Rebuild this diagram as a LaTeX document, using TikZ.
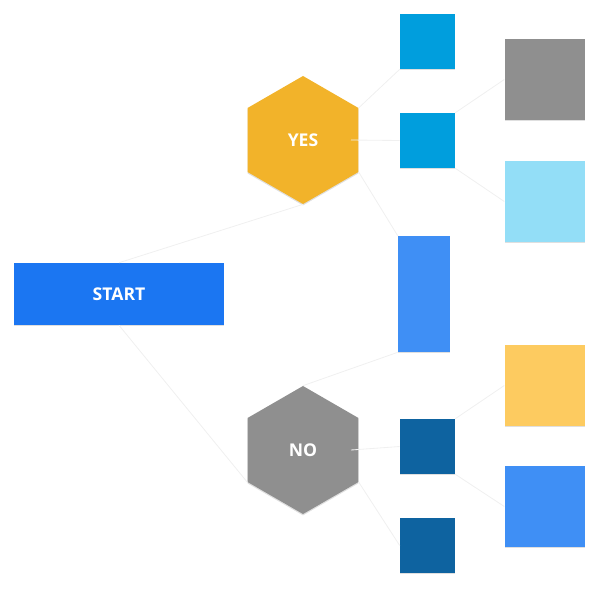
\documentclass[tikz,border=0pt]{standalone}
\usepackage{fontspec}
\setmainfont{Open Sans}
\usetikzlibrary{shapes.geometric,shadows}

\definecolor{startblue}{HTML}{1B76F2}
\definecolor{yesgold}{HTML}{F2B32A}
\definecolor{nogray}{HTML}{8F8F8F}
\definecolor{cyanbox}{HTML}{009EDD}
\definecolor{midblue}{HTML}{3F8FF5}
\definecolor{darkblue}{HTML}{0E63A0}
\definecolor{skyblue}{HTML}{93DEF7}
\definecolor{sunny}{HTML}{FDCB60}

\tikzset{
  box/.style={rectangle, inner sep=0pt, drop shadow={opacity=0.25, shadow xshift=0pt, shadow yshift=-1pt}},
  hex/.style={regular polygon, regular polygon sides=6, shape border rotate=30, minimum size=3.2cm, inner sep=0pt,
    text=white, font=\bfseries\fontsize{12.5}{14}\selectfont, drop shadow={opacity=0.25, shadow xshift=0pt, shadow yshift=-1pt}},
  link/.style={draw=gray!12, line width=0.6pt}
}

\begin{document}
\begin{tikzpicture}[x=0.025cm, y=-0.025cm]
\useasboundingbox (0,0) rectangle (600,588);
\node[box, fill=startblue, minimum width=5.25cm, minimum height=1.55cm, text=white, font=\bfseries\fontsize{12.5}{14}\selectfont] (start) at (119,294) {START};
\node[hex, fill=yesgold] (yes) at (303,140) {YES};
\node[hex, fill=nogray] (no) at (303,450) {NO};
\node[box, fill=cyanbox, minimum size=1.375cm] (c1) at (427.5,41.5) {};
\node[box, fill=cyanbox, minimum size=1.375cm] (c2) at (427.5,140.5) {};
\node[box, fill=midblue, minimum width=1.3cm, minimum height=2.9cm] (tall) at (424,294) {};
\node[box, fill=darkblue, minimum size=1.375cm] (d1) at (427.5,446.5) {};
\node[box, fill=darkblue, minimum size=1.375cm] (d2) at (427.5,545.5) {};
\node[box, fill=nogray, minimum size=2.02cm] (g1) at (545,79.5) {};
\node[box, fill=skyblue, minimum size=2.02cm] (g2) at (545,201.5) {};
\node[box, fill=sunny, minimum size=2.02cm] (g3) at (545,385.5) {};
\node[box, fill=midblue, minimum size=2.02cm] (g4) at (545,506.5) {};

\path[link] (start.north) -- (yes.corner 4);
\path[link] (yes.corner 6) -- (c1.south west);
\path[link] (yes.center) ++(48,0) -- (c2.west);
\path[link] (yes.corner 5) -- (tall.north west);
\path[link] (c2.north east) -- (g1.west);
\path[link] (c2.south east) -- (g2.west);
\path[link] (start.south) -- (no.corner 3);
\path[link] (no.corner 1) -- (tall.south west);
\path[link] (no.center) ++(48,0) -- (d1.west);
\path[link] (no.corner 5) -- (d2.west);
\path[link] (d1.north east) -- (g3.west);
\path[link] (d1.south east) -- (g4.west);
\end{tikzpicture}
\end{document}
